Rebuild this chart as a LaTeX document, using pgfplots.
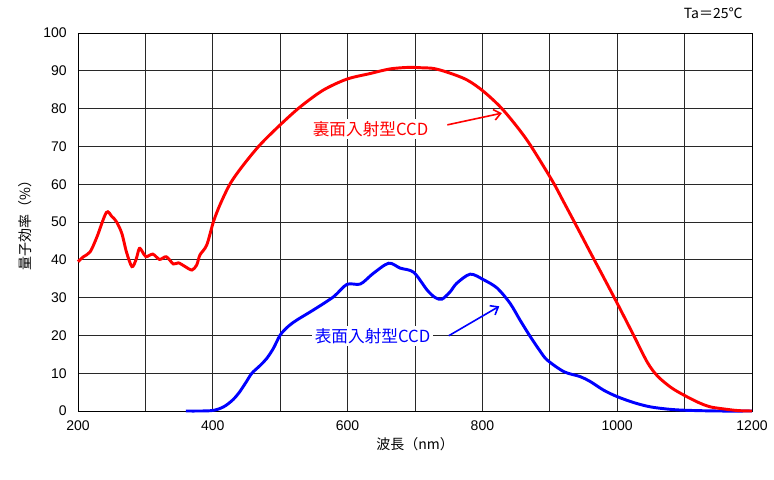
\documentclass[border=0pt]{standalone}
\usepackage{pgfplots}
\pgfplotsset{compat=1.18}
\usetikzlibrary{arrows.meta}
\usepackage{fontspec}
\setmainfont{Liberation Sans}
\newfontfamily\jp{Noto Sans CJK JP}
\definecolor{cred}{RGB}{255,0,0}
\definecolor{cblue}{RGB}{0,0,255}
\definecolor{gridc}{RGB}{40,40,40}
\begin{document}
\begin{tikzpicture}
\useasboundingbox (-58.5pt,-51pt) rectangle (522pt,308.25pt);
\begin{axis}[
    at={(0,0)}, anchor=south west,
    scale only axis, width=505.5pt, height=283.5pt,
    xmin=200, xmax=1200, ymin=0, ymax=100,
    xtick={200,400,...,1200},
    minor xtick={300,500,...,1100},
    ytick={0,10,...,100},
    grid=both,
    major grid style={gridc,line width=0.6pt},
    minor grid style={gridc,line width=0.6pt},
    major tick length=0pt, minor tick length=0pt,
    axis line style={black,line width=0.7pt},
    tick label style={font=\fontsize{10.5}{12}\selectfont},
    /pgf/number format/assume math mode=true,
    /pgf/number format/1000 sep={},
    xticklabel style={yshift=-4pt},
    yticklabel style={xshift=-5pt},
    xlabel={\jp 波長（nm）},
    ylabel={\jp 量子効率（\%）},
    label style={font=\fontsize{10.5}{12}\selectfont},
    xlabel style={yshift=2pt},
    ylabel style={yshift=2pt},
    clip=false,
  ]
  % front-illuminated CCD
  \addplot[cblue,line width=2.2pt,smooth] coordinates {
    (360,0)(398,0.1)(416,1.1)(430,3)(440,5.1)(450,7.8)(458,10)(470,12)
    (480,13.9)(490,16.6)(500,20.1)(512,22.4)(525,24.1)(549,26.7)(579,30.2)
    (599,33.5)(619,33.6)(638,36.4)(661,39.1)(678,37.8)(698,36.7)(718,32)
    (730,30)(740,29.6)(752,31.5)(762,33.8)(782,36.2)(802,34.7)(822,32.5)
    (841,28.5)(856,24)(871,19.7)(885,16)(896,13.5)(921,10.4)(945,9.1)
    (960,7.8)(980,5.5)(1000,3.8)(1025,2.2)(1049,1.1)(1075,0.5)(1100,0.2)
    (1150,0)(1200,0)};
  % back-illuminated CCD
  \addplot[cred,line width=2.2pt,smooth] coordinates {
    (200,39.5)(208,40.8)(218,42.1)(228,46)(242,52.5)(250,51.5)(257,50.1)
    (265,47)(272,42)(280,38.2)(286,40)(291,43)(296,42)(301,40.8)(311,41.5)
    (321,40.1)(331,40.8)(341.5,38.9)(349,39.2)(359,38.2)(369,37.3)(376,38.6)
    (381,41.3)(391,43.9)(401,50.1)(411,54.7)(426,60.2)(445,65)(470,70.4)
    (500,75.7)(530,80.5)(564,84.9)(599,87.8)(634,89.3)(663,90.5)(690,90.9)
    (710,90.8)(728,90.6)(750,89.5)(777,87.6)(802,84.5)(831,79.6)(866,71.7)
    (903,61.1)(920,55.5)(940,48.8)(960,42)(980,35.3)(1000,28.5)(1025,19.8)
    (1045,12.8)(1060,9.2)(1080,6.2)(1099,4.2)(1120,2.3)(1138,1.1)(1160,0.5)
    (1180,0.1)(1200,0)};
  % annotations
  \node[fill=white,inner sep=2pt,text=cred,font=\jp\fontsize{12.5}{14}\selectfont]
    at (axis cs:634,74.6) {裏面入射型CCD};
  \draw[cred,line width=1.2pt,->,>={Straight Barb[length=5pt,width=8pt]}]
    (axis cs:748,75.7) -- (axis cs:829,78.8);
  \node[fill=white,inner sep=2pt,text=cblue,font=\jp\fontsize{12.5}{14}\selectfont]
    at (axis cs:637,19.8) {表面入射型CCD};
  \draw[cblue,line width=1.2pt,->,>={Straight Barb[length=5pt,width=8pt]}]
    (axis cs:750,19.9) -- (axis cs:825,27.7);
  \node[anchor=east,font=\jp\fontsize{10.5}{12}\selectfont]
    at (axis cs:1193,105.2) {Ta＝25℃};
\end{axis}
\end{tikzpicture}
\end{document}
